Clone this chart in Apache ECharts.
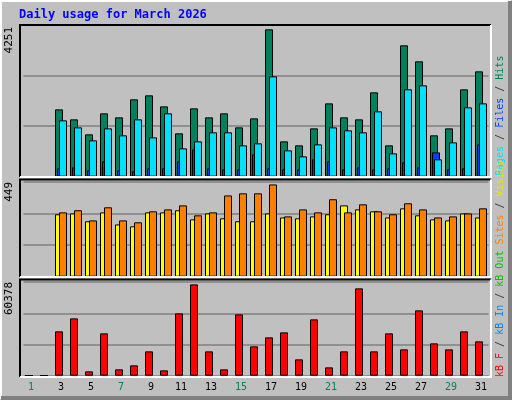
<!DOCTYPE html>
<html><head><meta charset="utf-8">
<script src="https://cdn.jsdelivr.net/npm/echarts@6/dist/echarts.min.js"></script>
<style>html,body{margin:0;padding:0;background:#c0c0c0}#c{width:512px;height:400px}</style>
</head><body><div id="c"></div>
<script>
const days = Array.from({length:31},(_, i)=>String(i+1));
const weekendDays = ['1','7','8','14','15','21','22','28','29'];
const hits  = [0,0,1887,1607,1187,1775,1663,2168,2280,1971,1215,1915,1663,1775,1383,1635,4130,990,878,1355,2055,1663,1607,2364,878,3681,3233,1159,1355,2448,2952];
const files = [0,0,234,262,178,430,178,150,234,234,430,766,234,206,206,626,234,206,206,486,430,206,262,206,234,402,262,682,206,234,906];
const pages = [0,0,1579,1383,1018,1355,1159,1607,1102,1775,794,990,1243,1243,878,934,2812,738,570,906,1383,1299,1243,1831,654,2448,2560,486,962,1943,2055];
const visits= [0,0,295,299,262,304,247,238,304,304,314,271,299,276,262,262,299,280,276,285,295,337,318,309,280,323,290,271,266,299,280];
const sites = [0,0,304,314,266,328,266,257,309,318,337,290,304,384,394,394,436,285,318,304,366,304,342,309,295,347,318,280,285,299,323];
const kbytes= [0,0,28627,37021,2798,27336,4090,6673,15713,3444,40251,58977,15713,4090,39605,18942,24753,27982,10547,36376,5381,15713,56394,15713,27336,17004,42188,20879,17004,28627,22170];
const maxLabels = ['4251','449','60378'];
const maxVals = [4251,449,60378];

const chart = echarts.init(document.getElementById('c'));
const mono = 'DejaVu Sans Mono';
const panels = [{top:25,h:151.7},{top:181.7,h:95},{top:282.2,h:93.5}];
const grids = panels.map(p=>({left:23.5,width:465,top:p.top,height:p.h}));
const xAxes = panels.map((p,i)=>({type:'category',gridIndex:i,data:days,
  axisLine:{show:false},axisTick:{show:false},
  axisLabel:{show:i===2,margin:7,fontFamily:mono,fontSize:10,
    color:v=>weekendDays.includes(v)?'#00805c':'#000'}}));
const yAxes = panels.map((p,i)=>({type:'value',gridIndex:i,min:0,max:maxVals[i],interval:maxVals[i]/3,
  axisLabel:{show:false},axisLine:{show:false},axisTick:{show:false},
  splitLine:{show:true,lineStyle:{color:'#808080',width:1.5}}}));
const bs = (name,data,color,xi,gap)=>({type:'bar',name,data,xAxisIndex:xi,yAxisIndex:xi,barWidth:8,barGap:gap,
  itemStyle:{color,borderColor:'#000',borderWidth:1},animation:false,silent:true});
const series = [
  bs('Hits',hits,'#00805c',0,'-75%'),
  bs('Files',files,'#0040ff',0,'-75%'),
  bs('Pages',pages,'#00e0ff',0,'-75%'),
  bs('Visits',visits,'#ffff00',1,'-50%'),
  bs('Sites',sites,'#ff8000',1,'-50%'),
  bs('KB',kbytes,'#ff0000',2,'-50%'),
  bs('dummy',kbytes.map(()=>0),'rgba(0,0,0,0)',2,'-50%')
];
series[6].itemStyle={color:'rgba(0,0,0,0)',borderWidth:0};

const g = [];
// outer bevel
g.push({type:'rect',shape:{x:0,y:0,width:512,height:400},style:{fill:'#c0c0c0'},z:-10});
g.push({type:'polyline',shape:{points:[[1,399],[1,1],[511,1]]},style:{stroke:'#fff',lineWidth:2,fill:null},z:-5});
g.push({type:'polyline',shape:{points:[[1,398],[510,398],[510,1]]},style:{stroke:'#808080',lineWidth:4,fill:null},z:-5});
// panel frames
const frames=[[20,25,177],[20,179.5,277],[20,279.5,377]];
frames.forEach(f=>{
  g.push({type:'polyline',shape:{points:[[f[0],f[2]],[f[0],f[1]],[491,f[1]]]},style:{stroke:'#000',lineWidth:2,fill:null},z:10});
  g.push({type:'polyline',shape:{points:[[f[0],f[2]],[491,f[2]],[491,f[1]]]},style:{stroke:'#fff',lineWidth:2,fill:null},z:10});
});
// title
g.push({type:'text',x:19,y:9,style:{text:'Daily usage for March 2026',fill:'#0000ff',font:'bold 12px '+mono}});
// max labels
[[25],[180],[280]].forEach((p,i)=>{
  g.push({type:'text',x:9,y:p[0]+2,rotation:Math.PI/2,style:{text:maxLabels[i],fill:'#000',font:'11px '+mono,align:'right',verticalAlign:'middle'}});
});
// right labels
const rt = (x,y,parts,align)=>({type:'text',x,y,rotation:Math.PI/2,style:{text:parts.map(p=>'{'+p[1]+'|'+p[0]+'}').join(''),
  align,verticalAlign:'middle',font:'10px '+mono,
  rich:{h:{fill:'#00805c',font:'10px '+mono},f:{fill:'#0040ff',font:'10px '+mono},p:{fill:'#00e0ff',font:'10px '+mono},
        s:{fill:'#404040',font:'10px '+mono},v:{fill:'#e8e800',font:'10px '+mono},o:{fill:'#ff8000',font:'10px '+mono},
        g:{fill:'#00c000',font:'10px '+mono},b:{fill:'#0080ff',font:'10px '+mono},r:{fill:'#ff0000',font:'10px '+mono}}}});
g.push(rt(500,176,[['Pages','p'],[' / ','s'],['Files','f'],[' / ','s'],['Hits','h']],'left'));
g.push(rt(500,377,[['kB F','r'],[' / ','s'],['kB In','b'],[' / ','s'],['kB Out','g'],[' ','s'],['Sites','o'],[' / ','s'],['Visits','v']],'left'));

chart.setOption({animation:false,backgroundColor:'#c0c0c0',grid:grids,xAxis:xAxes,yAxis:yAxes,series,graphic:g});
</script></body></html>
